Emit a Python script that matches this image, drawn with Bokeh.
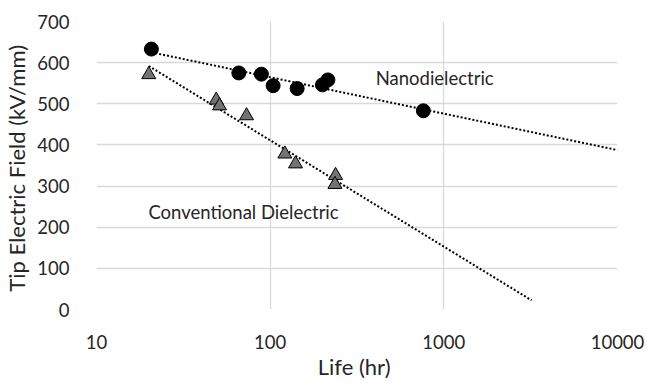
import numpy as np
from bokeh.plotting import figure
from bokeh.models import Range1d, FixedTicker, PrintfTickFormatter, Label
from bokeh.embed import file_html
from bokeh.resources import INLINE

# Nanodielectric samples: life (hr) and tip electric field (kV/mm)
nano_life = [20.7, 66, 89, 104, 143, 200, 215, 762]
nano_field = [633, 575, 572, 544, 537, 546, 558, 483]

# Conventional dielectric samples
conv_life = [20.0, 48.9, 51.1, 73.1, 121.5, 140, 238, 236]
conv_field = [571, 509, 495, 471, 378, 354, 326, 304]

# Trendline forecast end points (hr)
nano_trend_end = 10000
conv_trend_end = 3200

x_ticks = [10, 100, 1000, 10000]
y_ticks = [0, 100, 200, 300, 400, 500, 600, 700]

FONT = "Lato"
TXT = "#262626"
GRID = "#d9d9d9"


def log_trend(xs, ys, x_end):
    """Least-squares fit y = a*log10(x) + b, evaluated from min(x) to x_end."""
    a, b = np.polyfit(np.log10(xs), ys, 1)
    xl = np.array([min(xs), x_end], dtype=float)
    return xl, a * np.log10(xl) + b


p = figure(width=647, height=383, x_axis_type="log",
           output_backend="svg", toolbar_location=None,
           min_border_left=96, min_border_right=30,
           min_border_top=21, min_border_bottom=74)
p.x_range = Range1d(10, 10000)
p.y_range = Range1d(0, 700)
p.outline_line_color = None
p.background_fill_color = "white"
p.border_fill_color = "white"

# grid
p.xgrid.ticker = FixedTicker(ticks=x_ticks)
p.ygrid.ticker = FixedTicker(ticks=y_ticks)
for g in (p.xgrid, p.ygrid):
    g.grid_line_color = GRID
    g.grid_line_width = 1.3

# axes
p.xaxis.ticker = FixedTicker(ticks=x_ticks)
p.yaxis.ticker = FixedTicker(ticks=y_ticks)
p.xaxis.formatter = PrintfTickFormatter(format="%d")
for ax in (p.xaxis, p.yaxis):
    ax.axis_line_color = None
    ax.major_tick_line_color = None
    ax.minor_tick_line_color = None
    ax.major_label_text_font = FONT
    ax.major_label_text_font_size = "18.5px"
    ax.major_label_text_color = TXT
    ax.axis_label_text_font = FONT
    ax.axis_label_text_font_size = "22px"
    ax.axis_label_text_font_style = "normal"
    ax.axis_label_text_color = TXT
p.xaxis.axis_label = "Life  (hr)"
p.yaxis.axis_label = "Tip Electric Field  (kV/mm)"
p.xaxis.major_label_standoff = 19
p.xaxis.axis_label_standoff = 1
p.yaxis.major_label_standoff = 21
p.yaxis.axis_label_standoff = 4

# trendlines
nx, ny = log_trend(nano_life, nano_field, nano_trend_end)
cx, cy = log_trend(conv_life, conv_field, conv_trend_end)
p.line(nx, ny, line_color="black", line_width=2, line_dash="2 2")
p.line(cx, cy, line_color="black", line_width=2, line_dash="2 2")

# markers
p.scatter(conv_life, conv_field, marker="triangle", size=14,
          fill_color="#737373", line_color="black", line_width=1)
p.scatter(nano_life, nano_field, marker="circle", size=14,
          fill_color="black", line_color="black")

# series labels
p.add_layout(Label(x=405, y=563, text="Nanodielectric", text_font=FONT,
                   text_font_size="18.5px", text_color=TXT,
                   text_baseline="middle"))
p.add_layout(Label(x=19.9, y=236, text="Conventional Dielectric",
                   text_font=FONT, text_font_size="18.5px", text_color=TXT,
                   text_baseline="middle"))

open("out.html", "w").write(file_html(p, INLINE))
